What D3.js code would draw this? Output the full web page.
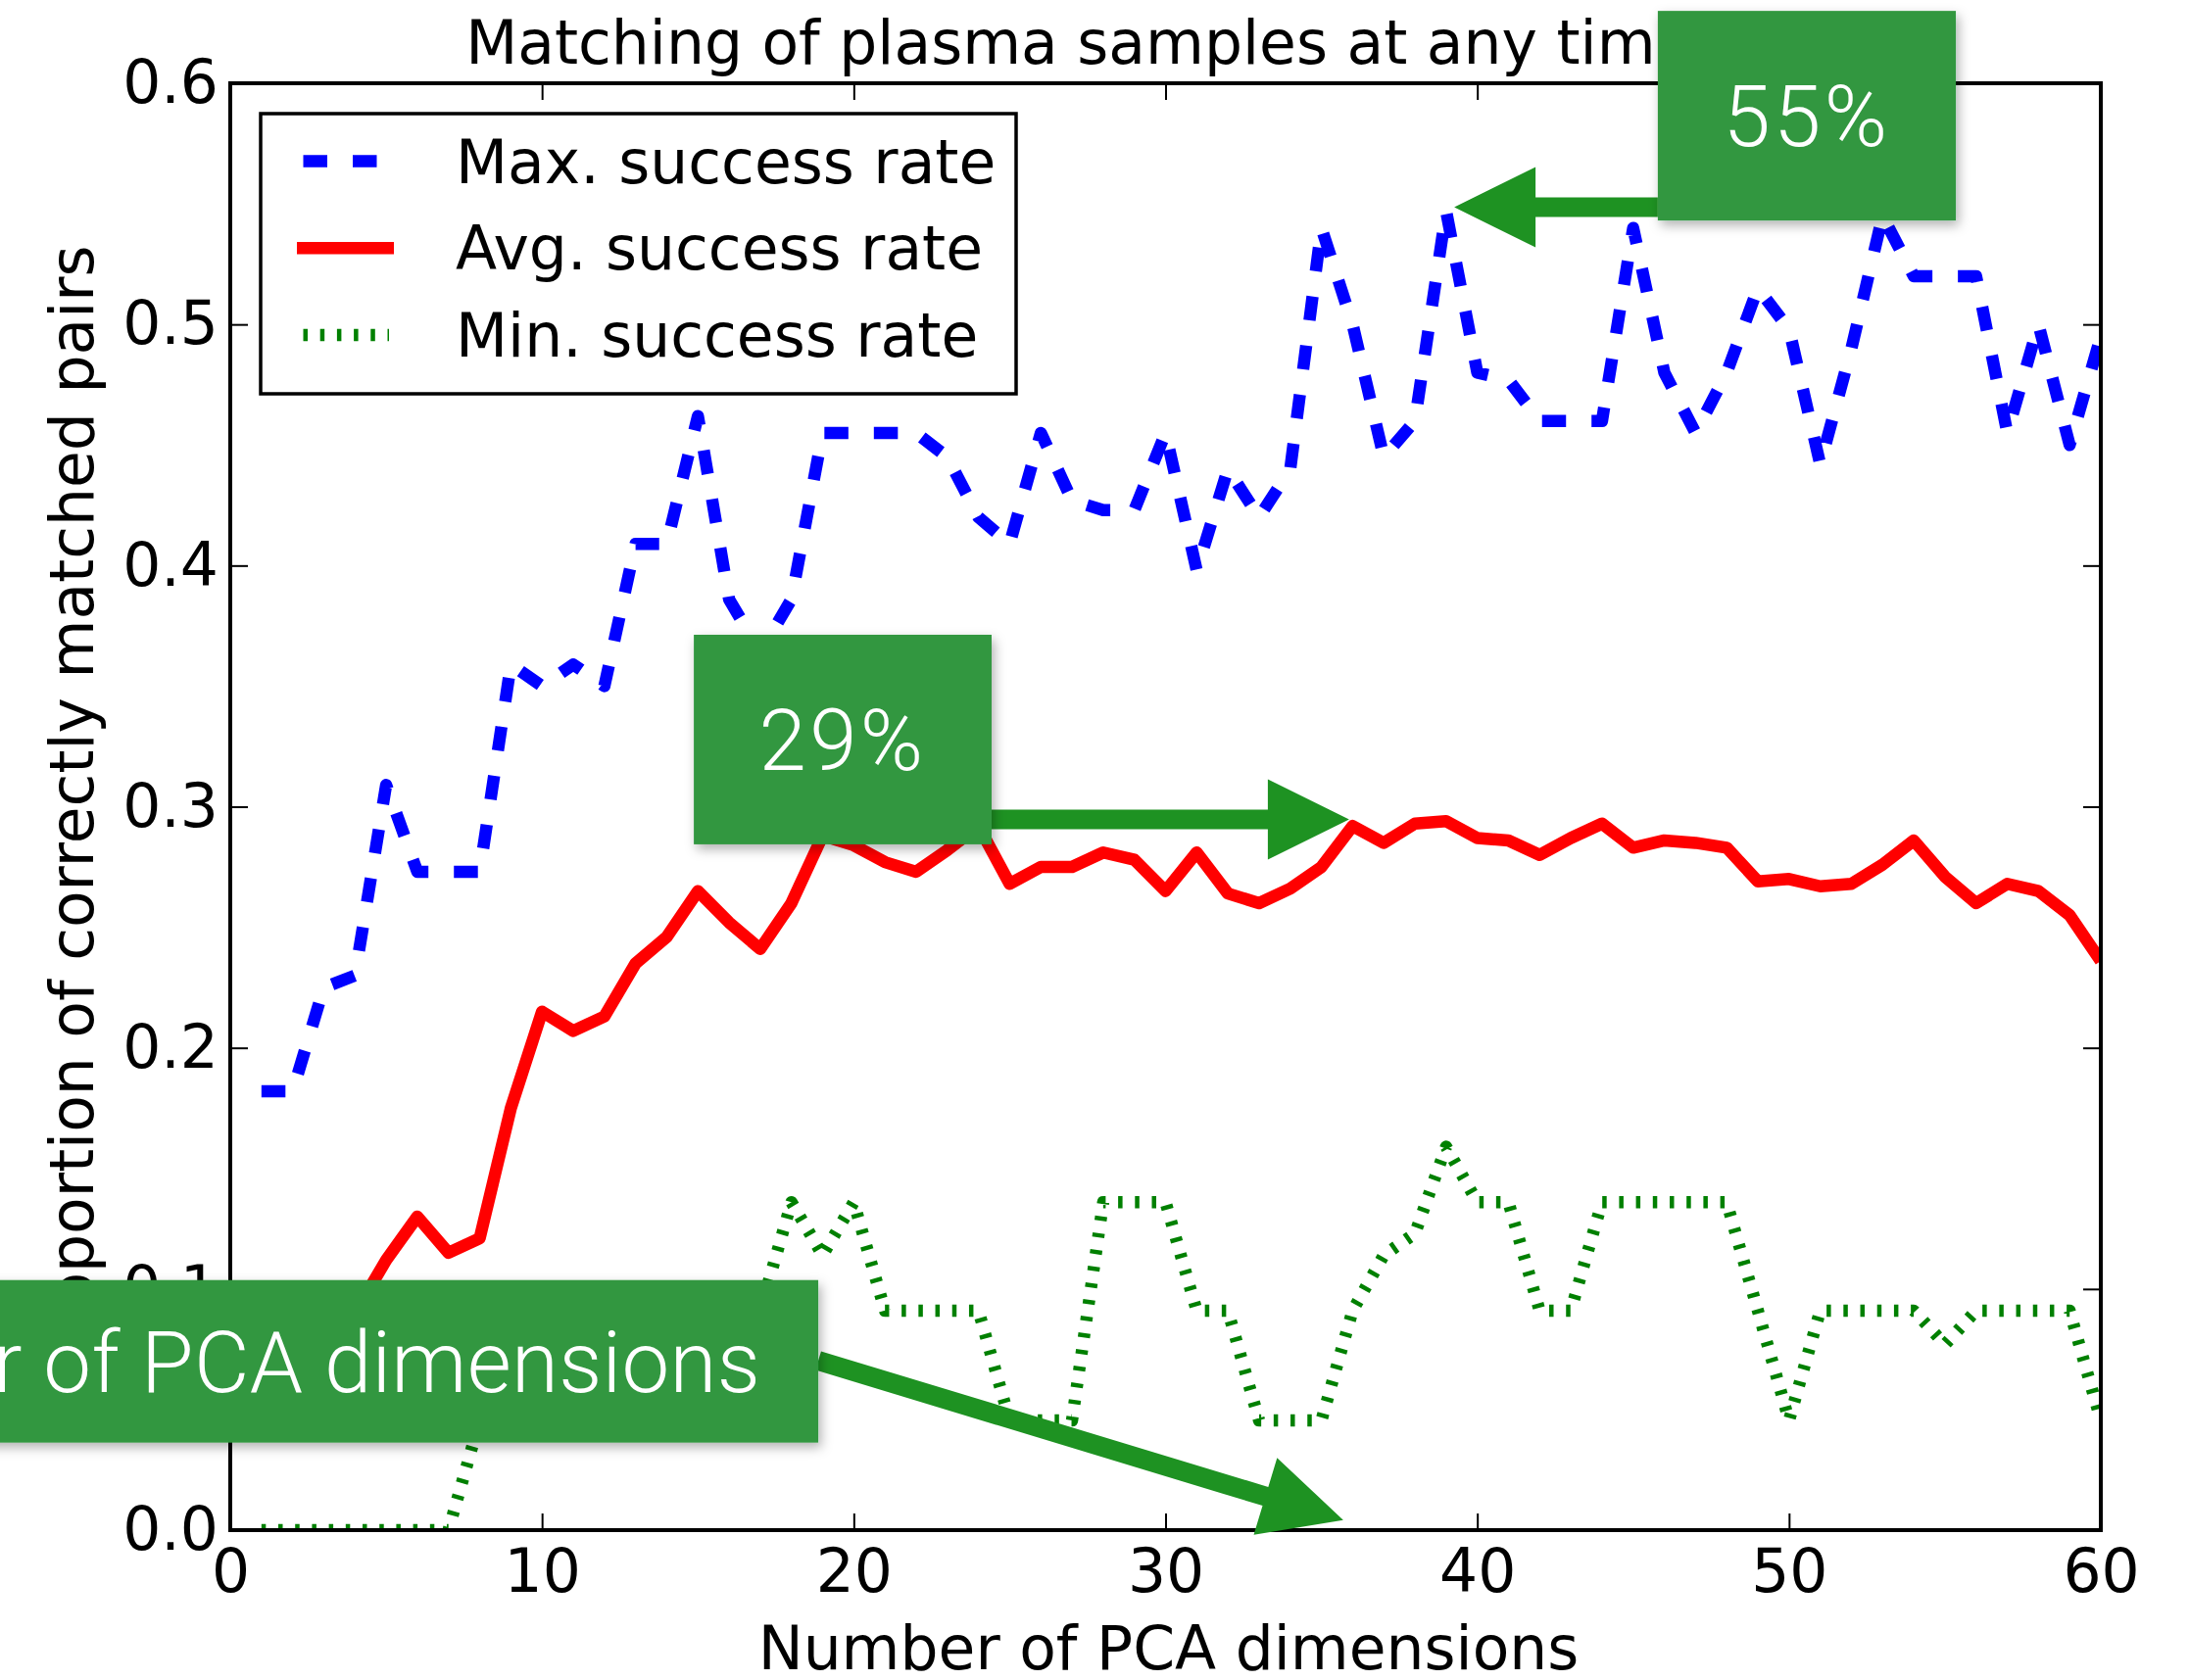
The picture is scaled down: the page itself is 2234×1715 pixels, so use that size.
<!DOCTYPE html>
<html>
<head>
<meta charset="utf-8">
<script src="https://cdn.jsdelivr.net/npm/d3@7"></script>
<style>
  body { margin: 0; background: #fff; }
  svg { display: block; }
  .chart text { font-family: "DejaVu Sans", sans-serif; fill: #000; }
  .callout text { font-family: Roboto, Inter, "Open Sans", sans-serif; font-weight: 300; fill: #fff; }
</style>
</head>
<body>
<div class="canvas"></div>
<script>
// number of PCA dimensions (x)
const pcaDims = [1, 2, 3, 4, 5, 6, 7, 8, 9, 10, 11, 12, 13, 14, 15, 16, 17, 18, 19, 20,
    21, 22, 23, 24, 25, 26, 27, 28, 29, 30, 31, 32, 33, 34, 35, 36, 37, 38, 39, 40,
    41, 42, 43, 44, 45, 46, 47, 48, 49, 50, 51, 52, 53, 54, 55, 56, 57, 58, 59, 60];

const maxRate = [0.182, 0.182, 0.225, 0.230, 0.309, 0.273, 0.273, 0.273, 0.359, 0.350,
    0.359, 0.350, 0.409, 0.409, 0.462, 0.386, 0.364, 0.386, 0.455, 0.455,
    0.455, 0.455, 0.445, 0.420, 0.409, 0.455, 0.427, 0.423, 0.423, 0.455,
    0.398, 0.440, 0.420, 0.440, 0.540, 0.500, 0.445, 0.460, 0.547, 0.480,
    0.477, 0.460, 0.460, 0.460, 0.540, 0.480, 0.455, 0.480, 0.515, 0.498,
    0.442, 0.490, 0.545, 0.520, 0.520, 0.520, 0.455, 0.500, 0.450, 0.495];

const avgRate = [0.050, 0.060, 0.072, 0.090, 0.112, 0.130, 0.115, 0.121, 0.175, 0.215,
    0.207, 0.213, 0.235, 0.246, 0.265, 0.252, 0.241, 0.260, 0.288, 0.284,
    0.277, 0.273, 0.282, 0.292, 0.268, 0.275, 0.275, 0.281, 0.278, 0.265,
    0.281, 0.264, 0.260, 0.266, 0.275, 0.292, 0.285, 0.293, 0.294, 0.287,
    0.286, 0.280, 0.287, 0.293, 0.283, 0.286, 0.285, 0.283, 0.269, 0.270,
    0.267, 0.268, 0.276, 0.286, 0.271, 0.260, 0.268, 0.265, 0.255, 0.236];

const minRate = [0, 0, 0, 0, 0, 0, 0, 0.0455, 0.0455, 0.0455,
    0.068, 0.068, 0.091, 0.091, 0.091, 0.091, 0.091, 0.136, 0.114, 0.136,
    0.091, 0.091, 0.091, 0.091, 0.0455, 0.0455, 0.0455, 0.136, 0.136, 0.136,
    0.091, 0.091, 0.0455, 0.0455, 0.0455, 0.091, 0.114, 0.123, 0.159, 0.136,
    0.136, 0.091, 0.091, 0.136, 0.136, 0.136, 0.136, 0.136, 0.091, 0.0455,
    0.091, 0.091, 0.091, 0.091, 0.077, 0.091, 0.091, 0.091, 0.091, 0.0455];

const seriesNames = ['Max. success rate', 'Avg. success rate', 'Min. success rate'];
const xTicks = [0, 10, 20, 30, 40, 50, 60];
const yTicks = [0.0, 0.1, 0.2, 0.3, 0.4, 0.5, 0.6];

const titleText = 'Matching of plasma samples at any time point';
const xLabelText = 'Number of PCA dimensions';
const yLabelText = 'Proportion of correctly matched pairs';

// green call-outs, in data units: box [x0, x1, yTop, yBottom], arrow from -> to
const calloutTexts = ['55%', '29%', 'Number of PCA dimensions'];
const calloutBoxes = [
    [45.79, 55.35, 0.630, 0.5431],
    [14.87, 24.42, 0.3713, 0.2844],
    [-12, 18.86, 0.1037, 0.0363]
];
const calloutArrows = [
    [[45.79, 0.5486], [39.26, 0.5486]],
    [[24.42, 0.2947], [35.89, 0.2947]],
    [[18.86, 0.0703], [35.70, 0.0042]]
];

const dims = {
    width: 2234,
    height: 1715,
    left: 235,
    right: 2144,
    top: 85,
    bottom: 1562,
    lineWidth: 12.5,
    frameWidth: 4,
    tickLength: 17,
    fontSize: 61.5,
    boxFont: 87
};

const styles = [
    { color: '#0000ff', dash: '24.5 26' },
    { color: '#ff0000', dash: null },
    { color: '#008000', dash: '4.5 12.7' }
];

const svg = d3.select('.canvas')
    .append('svg')
    .attr('class', 'chart')
    .attr('width', dims.width)
    .attr('height', dims.height);

const defs = svg.append('defs');

defs.append('clipPath')
    .attr('id', 'plotClip')
    .append('rect')
    .attr('x', dims.left)
    .attr('y', dims.top)
    .attr('width', dims.right - dims.left)
    .attr('height', dims.bottom - dims.top);

const shadow = defs.append('filter')
    .attr('id', 'boxShadow')
    .attr('x', '-10%').attr('y', '-10%')
    .attr('width', '130%').attr('height', '140%');
shadow.append('feDropShadow')
    .attr('dx', 3).attr('dy', 5)
    .attr('stdDeviation', 6)
    .attr('flood-color', '#000')
    .attr('flood-opacity', 0.3);

const x = d3.scaleLinear().domain([0, 60]).range([dims.left, dims.right]);
const y = d3.scaleLinear().domain([0, 0.6]).range([dims.bottom, dims.top]);

const series = [maxRate, avgRate, minRate].map((values, i) => ({
    name: seriesNames[i],
    style: styles[i],
    points: values.map((v, j) => ({ dim: pcaDims[j], value: v }))
}));

const line = d3.line()
    .x(d => x(d.dim))
    .y(d => y(d.value));

// data lines
const linesGroup = svg.append('g')
    .attr('clip-path', 'url(#plotClip)');

linesGroup.selectAll('path')
    .data(series)
    .enter()
    .append('path')
    .attr('d', d => line(d.points))
    .attr('fill', 'none')
    .attr('stroke', d => d.style.color)
    .attr('stroke-width', dims.lineWidth)
    .attr('stroke-linejoin', 'round')
    .attr('stroke-dasharray', d => d.style.dash);

// axes (ticks point inwards on all four sides)
const bottomAxis = svg.append('g')
    .attr('transform', `translate(0, ${dims.bottom})`)
    .call(d3.axisBottom(x).tickValues(xTicks).tickFormat(d3.format('d'))
        .tickSizeInner(-dims.tickLength).tickSizeOuter(0).tickPadding(19));

const topAxis = svg.append('g')
    .attr('transform', `translate(0, ${dims.top})`)
    .call(d3.axisTop(x).tickValues(xTicks).tickFormat('')
        .tickSizeInner(-dims.tickLength).tickSizeOuter(0));

const leftAxis = svg.append('g')
    .attr('transform', `translate(${dims.left}, 0)`)
    .call(d3.axisLeft(y).tickValues(yTicks).tickFormat(d3.format('.1f'))
        .tickSizeInner(-dims.tickLength - 1).tickSizeOuter(0).tickPadding(12));

const rightAxis = svg.append('g')
    .attr('transform', `translate(${dims.right}, 0)`)
    .call(d3.axisRight(y).tickValues(yTicks).tickFormat('')
        .tickSizeInner(-dims.tickLength - 1).tickSizeOuter(0));

[bottomAxis, topAxis, leftAxis, rightAxis].forEach(axis => {
    axis.select('.domain').remove();
    axis.selectAll('line').attr('stroke', '#000').attr('stroke-width', 2);
    axis.selectAll('text')
        .attr('font-family', '"DejaVu Sans", sans-serif')
        .attr('font-size', dims.fontSize)
        .attr('fill', '#000');
});

svg.append('rect')
    .attr('x', dims.left)
    .attr('y', dims.top)
    .attr('width', dims.right - dims.left)
    .attr('height', dims.bottom - dims.top)
    .attr('fill', 'none')
    .attr('stroke', '#000')
    .attr('stroke-width', dims.frameWidth);

// title and axis labels
svg.append('text')
    .attr('x', (dims.left + dims.right) / 2)
    .attr('y', 65)
    .attr('text-anchor', 'middle')
    .attr('font-size', dims.fontSize)
    .text(titleText);

svg.append('text')
    .attr('x', (dims.left + dims.right) / 2 + 3)
    .attr('y', 1704)
    .attr('text-anchor', 'middle')
    .attr('font-size', dims.fontSize)
    .text(xLabelText);

svg.append('text')
    .attr('transform', `translate(95, ${(dims.top + dims.bottom) / 2}) rotate(-90)`)
    .attr('text-anchor', 'middle')
    .attr('font-size', dims.fontSize)
    .text(yLabelText);

// legend
const legend = svg.append('g')
    .attr('transform', `translate(${dims.left + 31}, ${dims.top + 31})`);

legend.append('rect')
    .attr('width', 771)
    .attr('height', 286)
    .attr('fill', '#fff')
    .attr('stroke', '#000')
    .attr('stroke-width', 3.5);

const legendRows = legend.selectAll('.legendRow')
    .data(series)
    .enter()
    .append('g')
    .attr('class', 'legendRow')
    .attr('transform', (d, i) => `translate(0, ${48.5 + i * 88.8})`);

legendRows.append('line')
    .attr('x1', (d, i) => i === 1 ? 37 : 43.5)
    .attr('x2', (d, i) => i === 1 ? 136 : 131)
    .attr('stroke', d => d.style.color)
    .attr('stroke-width', dims.lineWidth)
    .attr('stroke-dasharray', d => d.style.dash);

legendRows.append('text')
    .attr('x', 199)
    .attr('y', 22)
    .attr('font-size', dims.fontSize)
    .text(d => d.name);

// green call-outs
const arrowPoints = (from, to) => {
    const p0 = [x(from[0]), y(from[1])];
    const p1 = [x(to[0]), y(to[1])];
    const len = Math.hypot(p1[0] - p0[0], p1[1] - p0[1]);
    const u = [(p1[0] - p0[0]) / len, (p1[1] - p0[1]) / len];
    const n = [-u[1], u[0]];
    const shaft = 10, head = 41, headLen = 83;
    const b = [p1[0] - u[0] * headLen, p1[1] - u[1] * headLen];
    return [
        [p0[0] + n[0] * shaft, p0[1] + n[1] * shaft],
        [b[0] + n[0] * shaft, b[1] + n[1] * shaft],
        [b[0] + n[0] * head, b[1] + n[1] * head],
        p1,
        [b[0] - n[0] * head, b[1] - n[1] * head],
        [b[0] - n[0] * shaft, b[1] - n[1] * shaft],
        [p0[0] - n[0] * shaft, p0[1] - n[1] * shaft]
    ];
};

const callouts = calloutTexts.map((t, i) => ({ text: t, box: calloutBoxes[i], arrow: calloutArrows[i] }));

const calloutGroup = svg.append('g').attr('class', 'callout');

calloutGroup.selectAll('.arrow')
    .data(callouts)
    .enter()
    .append('polygon')
    .attr('class', 'arrow')
    .attr('points', d => arrowPoints(d.arrow[0], d.arrow[1]).map(p => p.join(',')).join(' '))
    .attr('fill', '#1e9222');

const boxes = calloutGroup.selectAll('.box')
    .data(callouts)
    .enter()
    .append('g')
    .attr('class', 'box');

boxes.append('rect')
    .attr('x', d => x(d.box[0]))
    .attr('y', d => y(d.box[2]))
    .attr('width', d => x(d.box[1]) - x(d.box[0]))
    .attr('height', d => y(d.box[3]) - y(d.box[2]))
    .attr('fill', '#30973f')
    .attr('filter', 'url(#boxShadow)');

boxes.append('text')
    .attr('x', (d, i) => i === 2 ? x(d.box[1]) - 59 : (x(d.box[0]) + x(d.box[1])) / 2)
    .attr('y', d => (y(d.box[2]) + y(d.box[3])) / 2 + 31)
    .attr('text-anchor', (d, i) => i === 2 ? 'end' : 'middle')
    .attr('font-size', dims.boxFont)
    .attr('letter-spacing', (d, i) => i === 2 ? 0.3 : 3.4)
    .text(d => d.text);
</script>
</body>
</html>
